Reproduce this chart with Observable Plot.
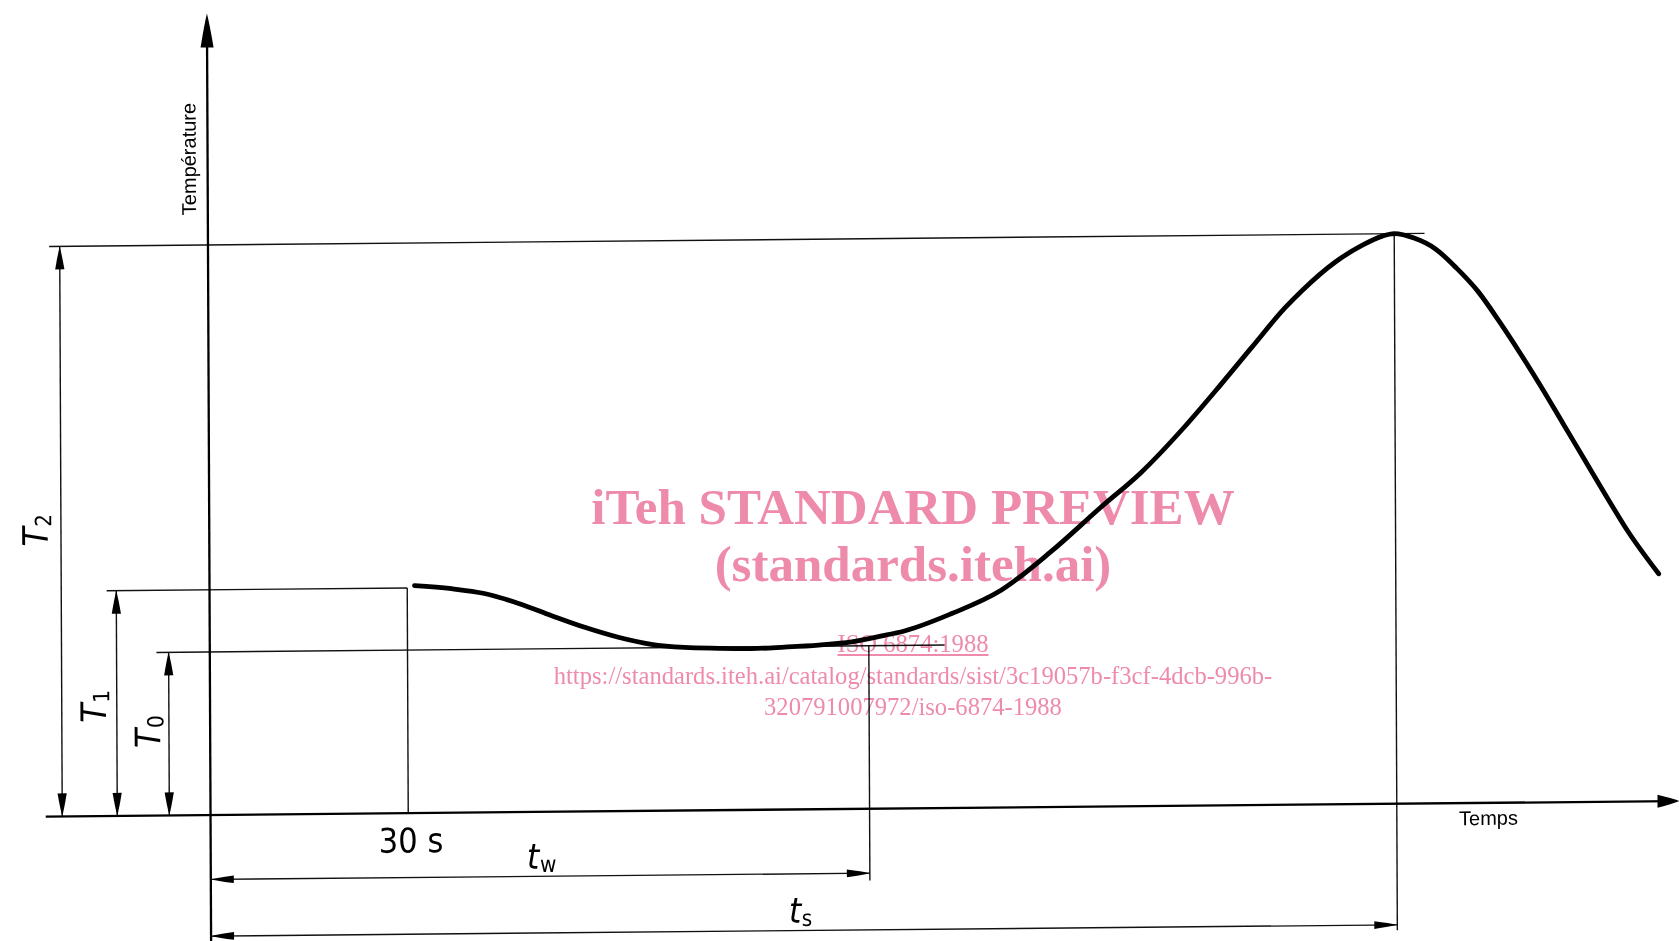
<!DOCTYPE html>
<html>
<head>
<meta charset="utf-8">
<script src="https://cdn.jsdelivr.net/npm/d3@7"></script>
<script src="https://cdn.jsdelivr.net/npm/@observablehq/plot@0.6"></script>
<style>
html, body { margin: 0; padding: 0; background: #fff; overflow: hidden; width: 1679px; height: 941px; }
#chart { position: absolute; left: 0; top: 0; }
#chart svg { display: block; transform-origin: 210px 814.5px; transform: matrix(1, -0.0095, 0.0045, 1, 0, 0); }
.wm { position: absolute; left: 0; width: 1826px; text-align: center; font-family: "Liberation Serif", "Times New Roman", serif; color: #ee8bab; mix-blend-mode: multiply; white-space: nowrap; line-height: 1; }
.wm.big { font-size: 51px; font-weight: bold; }
.wm.small { font-size: 24.6px; }
</style>
</head>
<body>
<div id="chart"></div>
<div class="wm big" style="top:482px">iTeh STANDARD PREVIEW</div>
<div class="wm big" style="top:539px">(standards.iteh.ai)</div>
<div class="wm small" style="top:632px"><span style="text-decoration:underline">ISO 6874:1988</span></div>
<div class="wm small" style="top:664px">https://standards.iteh.ai/catalog/standards/sist/3c19057b-f3cf-4dcb-996b-</div>
<div class="wm small" style="top:695px">320791007972/iso-6874-1988</div>
<script>
// ---- data (time in s, temperature in arbitrary units, T2 = 100) ----
const curveTime = [31.1, 36.7, 41.7, 46.9, 51.9, 56.9, 62.0, 67.0, 72.0, 77.2, 82.2, 87.2, 92.4, 97.4, 102.4, 105.0, 112.6, 120.1, 127.6, 135.3, 141.4, 148.0, 153.2, 158.3, 163.4, 166.0, 171.0, 175.1, 178.2, 180.0, 183.0, 186.2, 189.4, 192.7, 195.9, 199.1, 202.3, 205.5, 208.8, 212.0, 215.2, 219.9];
const curveTemp = [39.9, 39.3, 38.4, 36.6, 34.4, 32.3, 30.5, 29.2, 28.6, 28.4, 28.3, 28.5, 28.8, 29.3, 30.4, 31.0, 34.1, 38.1, 44.7, 52.5, 58.5, 66.4, 73.3, 80.3, 87.2, 90.2, 95.1, 98.0, 99.6, 100.0, 99.2, 97.3, 93.9, 89.7, 84.4, 78.7, 72.7, 66.4, 59.9, 53.6, 47.5, 39.9];
const levelNames = ["T_0", "T_1", "T_2"];
const levelTemps = [28.6, 39.5, 100];
const timeNames = ["t_w", "t_s"];
const timeValues = [100, 180];
const holdLabel = "30 s";
const holdTime = 30;
const axisNames = ["Température", "Temps"];

// ---- drawing layout (annotation geometry) ----
const dimX = [-6.25, -14.15, -22.5];      // dimension arrows for T0, T1, T2
const extStart = [-8.1, -15.6, -24.1];    // left ends of level lines
const extEnd = [111.5, 30, 184.6];        // right ends of level lines
const timeDimY = [-11.3, -21.25];         // dimension arrows for tw, ts
const timeExtTop = [levelTemps[0], levelTemps[2]];
const timeExtBottom = [-12.6, -22.2];
const xAxisEnd = 222.9, yAxisTop = 140.6, bottomEdge = -22.2, baseStart = -25;

// arrowhead symbol factory: tip at (0,0)
function head(dir, L, W) {
  return {
    draw(ctx) {
      const p = (a, b) => dir === "up" ? [a, b] : dir === "down" ? [a, -b] : dir === "left" ? [b, a] : [-b, a];
      ctx.moveTo(...p(0, 0));
      ctx.quadraticCurveTo(...p(W * 0.45, L * 0.35), ...p(W, L));
      ctx.lineTo(...p(-W, L));
      ctx.quadraticCurveTo(...p(-W * 0.45, L * 0.35), ...p(0, 0));
      ctx.closePath();
    }
  };
}

const curve = curveTime.map((t, i) => ({t, T: curveTemp[i]}));

const thin = [];
levelTemps.forEach((v, i) => {
  thin.push({x1: extStart[i], y1: v, x2: extEnd[i], y2: v});
  thin.push({x1: dimX[i], y1: 0, x2: dimX[i], y2: v});
});
thin.push({x1: holdTime, y1: 0, x2: holdTime, y2: levelTemps[1]});
timeValues.forEach((v, i) => {
  thin.push({x1: v, y1: timeExtTop[i], x2: v, y2: timeExtBottom[i]});
  thin.push({x1: 0, y1: timeDimY[i], x2: v, y2: timeDimY[i]});
});
const axes = [
  {x1: baseStart, y1: 0, x2: xAxisEnd - 1, y2: 0},
  {x1: 0, y1: bottomEdge, x2: 0, y2: yAxisTop - 2}
];

const upHeads = levelTemps.map((v, i) => ({x: dimX[i], y: v}));
const downHeads = levelTemps.map((v, i) => ({x: dimX[i], y: 0}));
const leftHeads = timeDimY.map(y => ({x: 0, y}));
const rightHeads = timeValues.map((v, i) => ({x: v, y: timeDimY[i]}));

const levelLabels = levelNames.map((s, i) => ({s, x: [-9.3, -17.5, -26.2][i], y: [11.9, 16.4, 47.4][i]}));
const timeLabels = timeNames.map((s, i) => ({s, x: [48.0, 87.7][i], y: [-8.0, -17.9][i]}));

const labelFont = "'Liberation Sans Narrow', 'DejaVu Sans Condensed', 'Liberation Sans', sans-serif";
const axisFont = "'Liberation Sans', Arial, sans-serif";

const plot = Plot.plot({
  width: 1679,
  height: 941,
  margin: 0,
  x: {domain: [-31.87, 222.9], axis: null},
  y: {domain: [-22.19, 142.89], axis: null},
  style: {background: "transparent", overflow: "visible"},
  marks: [
    Plot.link(thin, {x1: "x1", y1: "y1", x2: "x2", y2: "y2", stroke: "#111", strokeWidth: 1.4}),
    Plot.link(axes, {x1: "x1", y1: "y1", x2: "x2", y2: "y2", stroke: "#000", strokeWidth: 2.3}),
    Plot.line(curve, {x: "t", y: "T", curve: "monotone-x", stroke: "#000", strokeWidth: 4.8, strokeLinecap: "round", strokeLinejoin: "round"}),
    Plot.dot([{x: 0, y: yAxisTop}], {x: "x", y: "y", symbol: head("up", 34, 6.5), fill: "#000", stroke: "none"}),
    Plot.dot([{x: xAxisEnd, y: 0}], {x: "x", y: "y", symbol: head("right", 22, 6.5), fill: "#000", stroke: "none"}),
    Plot.dot(upHeads, {x: "x", y: "y", symbol: head("up", 23, 4.6), fill: "#000", stroke: "none"}),
    Plot.dot(downHeads, {x: "x", y: "y", symbol: head("down", 23, 4.6), fill: "#000", stroke: "none"}),
    Plot.dot(leftHeads, {x: "x", y: "y", symbol: head("left", 23, 3.8), fill: "#000", stroke: "none"}),
    Plot.dot(rightHeads, {x: "x", y: "y", symbol: head("right", 23, 3.8), fill: "#000", stroke: "none"}),
    Plot.text(levelLabels, {x: "x", y: "y", text: "s", rotate: -90, textAnchor: "start", lineAnchor: "middle", fontSize: 35, fontStyle: "italic", fontFamily: labelFont, fill: "#000"}),
    Plot.text(timeLabels, {x: "x", y: "y", text: "s", textAnchor: "start", lineAnchor: "middle", fontSize: 35, fontStyle: "italic", fontFamily: labelFont, fill: "#000"}),
    Plot.text([holdLabel], {x: holdTime + 0.4, y: -5.0, text: d => d, textAnchor: "middle", lineAnchor: "middle", fontSize: 34, fontFamily: labelFont, fill: "#000"}),
    Plot.text([axisNames[0]], {x: -2.76, y: 115.1, text: d => d, rotate: -90, textAnchor: "middle", lineAnchor: "middle", fontSize: 20, fontFamily: axisFont, fill: "#000"}),
    Plot.text([axisNames[1]], {x: 193.9, y: -2.75, text: d => d, textAnchor: "middle", lineAnchor: "middle", fontSize: 20, fontFamily: axisFont, fill: "#000"})
  ]
});

// subscripts
const ns = "http://www.w3.org/2000/svg";
plot.querySelectorAll("text").forEach(el => {
  const s = el.textContent;
  if (!s.includes("_")) return;
  const [a, b] = s.split("_");
  el.textContent = "";
  const t1 = document.createElementNS(ns, "tspan");
  t1.textContent = a;
  const t2 = document.createElementNS(ns, "tspan");
  t2.textContent = b;
  t2.setAttribute("dy", "0.15em");
  t2.setAttribute("dx", "0.02em");
  t2.setAttribute("font-size", "64%");
  t2.setAttribute("font-style", "normal");
  el.append(t1, t2);
});

document.getElementById("chart").append(plot);
</script>
</body>
</html>
